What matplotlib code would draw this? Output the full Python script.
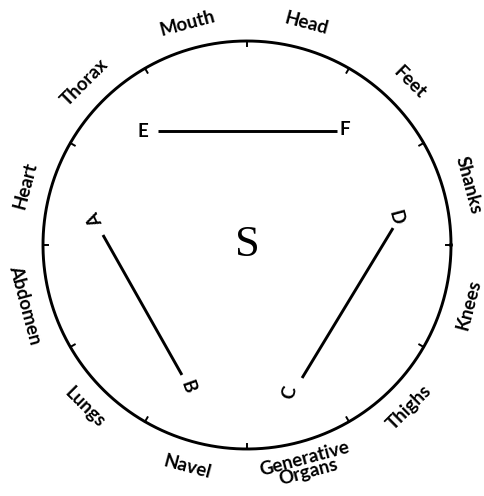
import numpy as np
import matplotlib.pyplot as plt

# labels round the circle, clockwise from the top (between tick marks)
parts = ['Head', 'Feet', 'Shanks', 'Knees', 'Thighs', 'Generative\nOrgans',
         'Navel', 'Lungs', 'Abdomen', 'Heart', 'Thorax', 'Mouth']
part_angles = [15, 45, 75, 105, 135, 165, 195, 225, 255, 285, 315, 345]
tick_angles = [0, 30, 60, 90, 120, 150, 180, 210, 240, 270, 300, 330]

# chords inside the circle (unit = circle radius, centre at 0,0)
seg_names = [('E', 'F'), ('A', 'B'), ('C', 'D')]
seg_x = [(-0.436, 0.441), (-0.706, -0.319), (0.270, 0.716)]
seg_y = [(0.559, 0.559), (0.049, -0.637), (-0.652, 0.083)]

letters = ['E', 'F', 'A', 'B', 'C', 'D']
letter_x = [-0.51, 0.48, -0.745, -0.289, 0.211, 0.730]
letter_y = [0.554, 0.564, 0.123, -0.696, -0.721, 0.137]
letter_rot = [0, 0, 115, -70, 75, -75]

W, H, dpi = 485, 496, 100
R = 204.0
cx, cy = 247, 245

fig = plt.figure(figsize=(W / dpi, H / dpi), dpi=dpi)
ax = fig.add_axes([0, 0, 1, 1])
ax.set_xlim(-cx / R, (W - cx) / R)
ax.set_ylim(-(H - cy) / R, cy / R)
ax.axis('off')

lw = 2.1
t = np.linspace(0, 2 * np.pi, 400)
ax.plot(np.cos(t), np.sin(t), color='black', lw=lw)

# small inward tick marks
for a in tick_angles:
    th = np.radians(90 - a)
    ax.plot([np.cos(th), 0.975 * np.cos(th)], [np.sin(th), 0.975 * np.sin(th)],
            color='black', lw=1.4)

font = 'Lato'
for name, a in zip(parts, part_angles):
    th = 90 - a
    r = 1.125 if '\n' not in name else 1.12
    x, y = r * np.cos(np.radians(th)), r * np.sin(np.radians(th))
    if np.sin(np.radians(th)) >= 0:
        rot = th - 90
    else:
        rot = th + 90
    ax.text(x, y, name, rotation=rot, rotation_mode='anchor',
            ha='center', va='center', fontsize=13.5, family=font,
            fontweight='bold', linespacing=0.75)

for xs, ys in zip(seg_x, seg_y):
    ax.plot(xs, ys, color='black', lw=lw, solid_capstyle='butt')

for s, x, y, r in zip(letters, letter_x, letter_y, letter_rot):
    ax.text(x, y, s, rotation=r, rotation_mode='anchor', ha='center',
            va='center', fontsize=13.5, family=font, fontweight='bold')

ax.text(0, 0, 'S', ha='center', va='center', fontsize=32,
        family='Liberation Serif')

fig.savefig('out.png', dpi=dpi)
